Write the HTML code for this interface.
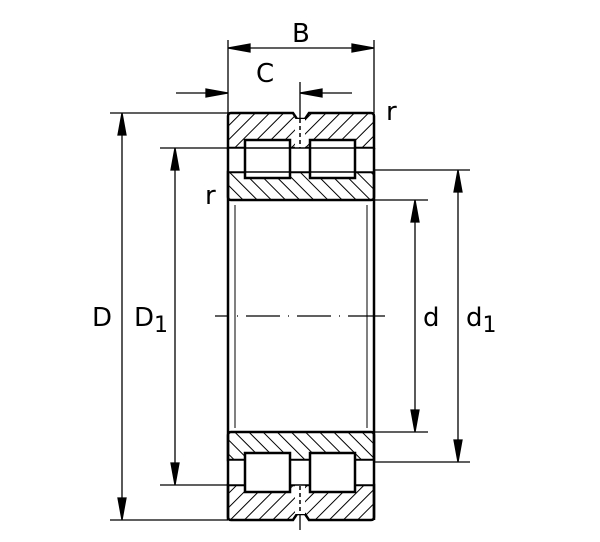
<!DOCTYPE html>
<html><head><style>body{margin:0;background:#fff}svg{display:block}text{font-family:"DejaVu Sans","Liberation Sans",sans-serif;fill:#000}</style></head><body>
<svg width="600" height="542" viewBox="0 0 600 542">
<defs>
<pattern id="h" patternUnits="userSpaceOnUse" width="10" height="10" patternTransform="rotate(45)"><line x1="0" y1="0" x2="0" y2="10" stroke="#000" stroke-width="2"/></pattern>
<pattern id="h2" patternUnits="userSpaceOnUse" width="10" height="10" patternTransform="rotate(-45)"><line x1="0" y1="0" x2="0" y2="10" stroke="#000" stroke-width="2"/></pattern>
</defs>
<g stroke="#000" fill="none" stroke-width="1.3">
<line x1="228" y1="40" x2="228" y2="113"/><line x1="374" y1="40" x2="374" y2="113"/>
<line x1="110" y1="113" x2="228" y2="113"/><line x1="110" y1="520" x2="228" y2="520"/>
<line x1="160" y1="148" x2="228" y2="148"/><line x1="160" y1="485" x2="228" y2="485"/>
<line x1="374" y1="170" x2="470" y2="170"/><line x1="374" y1="462" x2="470" y2="462"/>
<line x1="374" y1="200" x2="428" y2="200"/><line x1="374" y1="432" x2="428" y2="432"/>
<line x1="122" y1="116" x2="122" y2="517"/>
<path d="M122,113 l-4,22 h8z M122,520 l-4,-22 h8z" fill="#000"/>
<line x1="175" y1="151" x2="175" y2="482"/>
<path d="M175,148 l-4,22 h8z M175,485 l-4,-22 h8z" fill="#000"/>
<line x1="415" y1="203" x2="415" y2="429"/>
<path d="M415,200 l-4,22 h8z M415,432 l-4,-22 h8z" fill="#000"/>
<line x1="458" y1="173" x2="458" y2="459"/>
<path d="M458,170 l-4,22 h8z M458,462 l-4,-22 h8z" fill="#000"/>
<line x1="231" y1="48" x2="371" y2="48"/>
<path d="M228,48 l22,-4 v8z M374,48 l-22,-4 v8z" fill="#000"/>
<line x1="176" y1="93" x2="228" y2="93"/><line x1="300" y1="93" x2="352" y2="93"/>
<path d="M228,93 l-22,-4 v8z M300,93 l22,-4 v8z" fill="#000"/>
<line x1="300" y1="82" x2="300" y2="150"/><line x1="300" y1="478" x2="300" y2="530"/>
<line x1="215" y1="316" x2="385" y2="316" stroke-width="1.2" stroke-dasharray="14,8,1,8,34,8,1,8,34,8,1,8,40"/>
<line x1="228" y1="200" x2="228" y2="432" stroke-width="2.5"/><line x1="374" y1="200" x2="374" y2="432" stroke-width="2.5"/>
<line x1="235" y1="205" x2="235" y2="428" stroke-width="1"/><line x1="367" y1="205" x2="367" y2="428" stroke-width="1"/>
</g>
<g stroke="#000" stroke-width="2.5">
<path d="M228,116 q0,-3 3,-3 h62 l4,6 h8 l4,-6 h62 q3,0 3,3 v32 h-146z" fill="url(#h)"/>
<rect x="295" y="119" width="10" height="29" fill="#fff" stroke="none"/>
<path d="M228,172 h146 v25 q0,3 -3,3 h-140 q-3,0 -3,-3z" fill="url(#h2)"/>
<rect x="228" y="148" width="146" height="24" fill="#fff" stroke="none"/>
<line x1="228" y1="148" x2="228" y2="200"/><line x1="374" y1="148" x2="374" y2="200"/>
<rect x="245" y="140" width="45" height="38" fill="#fff"/>
<rect x="310" y="140" width="45" height="38" fill="#fff"/>
<path d="M231,432 h140 q3,0 3,3 v25 h-146 v-25 q0,-3 3,-3z" fill="url(#h2)"/>
<path d="M228,485 h146 v32 q0,3 -3,3 h-62 l-4,-6 h-8 l-4,6 h-62 q-3,0 -3,-3z" fill="url(#h)"/>
<rect x="295" y="485" width="10" height="29" fill="#fff" stroke="none"/>
<rect x="229" y="460" width="144" height="25" fill="#fff" stroke="none"/>
<line x1="228" y1="432" x2="228" y2="520"/><line x1="374" y1="432" x2="374" y2="520"/>
<line x1="228" y1="460" x2="374" y2="460" stroke-width="1.5"/><line x1="228" y1="485" x2="374" y2="485" stroke-width="1.5"/>
<line x1="228" y1="148" x2="374" y2="148" stroke-width="1.5"/><line x1="228" y1="172" x2="374" y2="172" stroke-width="1.5"/>
<rect x="245" y="453" width="45" height="39" fill="#fff"/>
<rect x="310" y="453" width="45" height="39" fill="#fff"/>
</g>
<g stroke="#000" stroke-width="1.5" stroke-dasharray="4,3"><line x1="300" y1="119" x2="300" y2="148"/><line x1="300" y1="486" x2="300" y2="514"/></g>
<text x="292" y="42" font-size="26">B</text>
<text x="256" y="82" font-size="26">C</text>
<text x="386" y="120" font-size="26">r</text>
<text x="205" y="204" font-size="26">r</text>
<text x="92" y="326" font-size="26">D</text>
<text x="134" y="326" font-size="26">D<tspan font-size="22" dy="6">1</tspan></text>
<text x="423" y="326" font-size="26">d</text>
<text x="466" y="326" font-size="26">d<tspan font-size="22" dy="6">1</tspan></text>
</svg>
</body></html>
